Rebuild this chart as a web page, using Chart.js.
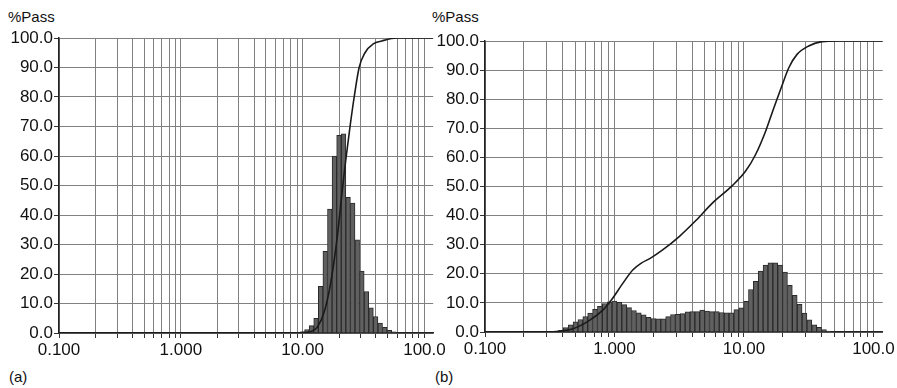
<!DOCTYPE html>
<html>
<head>
<meta charset="utf-8">
<script src="https://cdn.jsdelivr.net/npm/chart.js@4.4.1/dist/chart.umd.min.js"></script>
<style>
  html, body { margin:0; padding:0; background:#fff; }
  body { width:897px; height:388px; position:relative; overflow:hidden; font-family:"Liberation Sans", Arial, sans-serif; color:#111; }
  canvas { position:absolute; top:0; }
  .lbl { position:absolute; font-size:15px; line-height:15px; white-space:nowrap; }
</style>
</head>
<body>
<div class="lbl" style="left:8px; top:9px;">%Pass</div>
<div class="lbl" style="left:432px; top:9px;">%Pass</div>
<div class="lbl" style="left:9px; top:369px;">(a)</div>
<div class="lbl" style="left:435px; top:369px;">(b)</div>
<canvas id="ca" width="448" height="388" style="left:0px;"></canvas>
<canvas id="cb" width="477" height="388" style="left:420px;"></canvas>
<script>
// ---------- data ----------
const xTickValues = [0.1,0.2,0.3,0.4,0.5,0.6,0.7,0.8,0.9,1,2,3,4,5,6,7,8,9,10,20,30,40,50,60,70,80,90,100];
const xTickLabels = {0.1:"0.100", 1:"1.000", 10:"10.00", 100:"100.0"};
const yTickValues = [0,10,20,30,40,50,60,70,80,90,100];

// Panel (a) histogram
const histSizesA = [9.110, 9.935, 10.834, 11.815, 12.884, 14.050, 15.321, 16.708, 18.220, 19.869, 21.668, 23.629, 25.767, 28.100, 30.643, 33.417, 36.442, 39.740, 43.336, 47.259, 51.535, 56.200];
const histValsA  = [0.2, 0.4, 1.2, 2.5, 5.0, 15.8, 27.7, 42.0, 60.0, 67.0, 67.5, 46.0, 44.0, 31.6, 21.0, 14.0, 8.5, 5.6, 3.4, 1.9, 0.9, 0.4];
// Panel (a) cumulative %pass
const cumSizesA = [0.1, 8.5, 10.5, 11.7, 13.2, 15.0, 17.0, 19.3, 21.1, 22.5, 24.5, 26.5, 29.1, 32.5, 38.0, 44.7, 59.2, 118];
const cumValsA  = [0, 0, 0.2, 0.5, 2, 7, 17, 33, 48, 58, 70, 80, 90, 95, 98, 99, 100, 100];

// Panel (b) histogram
const histSizesB = [0.3536, 0.3856, 0.4204, 0.4585, 0.5, 0.5453, 0.5946, 0.6484, 0.7071, 0.7711, 0.8409, 0.917, 1.0, 1.0905, 1.1892, 1.2968, 1.4142, 1.5422, 1.6818, 1.834, 2.0, 2.181, 2.378, 2.594, 2.828, 3.084, 3.364, 3.668, 4.0, 4.362, 4.757, 5.187, 5.657, 6.169, 6.727, 7.336, 8.0, 8.724, 9.514, 10.375, 11.314, 12.338, 13.454, 14.672, 16.0, 17.448, 19.027, 20.749, 22.627, 24.675, 26.909, 29.344, 32.0, 34.897, 38.055, 41.499, 45.255];
const histValsB  = [0.2, 0.5, 1.5, 2.5, 3.5, 4.3, 5.3, 6.5, 7.8, 8.8, 9.8, 10.4, 10.6, 10.2, 9.4, 8.4, 7.4, 6.6, 5.9, 5.0, 4.6, 4.5, 4.5, 5.3, 6.0, 6.1, 6.3, 6.9, 7.0, 7.0, 7.5, 7.2, 7.0, 7.0, 6.7, 6.6, 6.6, 7.7, 8.3, 10.5, 14.6, 17.4, 20.9, 23.0, 23.8, 23.8, 23.0, 20.6, 16.0, 12.6, 9.5, 6.5, 4.2, 2.5, 1.6, 0.8, 0.3];
// Panel (b) cumulative %pass
const cumSizesB = [0.1, 0.33, 0.36, 0.478, 0.642, 0.813, 0.943, 1.159, 1.383, 1.60, 1.90, 2.354, 3.162, 4.25, 5.70, 8.13, 10.3, 12.3, 14.7, 17.0, 19.2, 22.2, 25.7, 31.6, 40.0, 53.8, 118];
const cumValsB  = [0, 0, 0.2, 1.1, 4, 7.5, 10.9, 16.7, 21.3, 23.6, 25.4, 28.2, 32.8, 38.3, 44.3, 50.3, 55.3, 61, 69, 77, 83.4, 90.8, 95.4, 98.3, 99.8, 100, 100];

// ---------- chart builder ----------
const FONT = { family: "'Liberation Sans', Arial, sans-serif", size: 17 };
function pts(xs, ys) { return xs.map((x, i) => ({ x: x, y: ys[i] })); }

function makeChart(id, hs, hv, cs, cv, yAxisW, pad) {
  return new Chart(document.getElementById(id), {
    type: 'bar',
    data: {
      datasets: [
        {
          type: 'line', data: pts(cs, cv), borderColor: '#1a1a1a', borderWidth: 1.6,
          pointRadius: 0, cubicInterpolationMode: 'monotone', fill: false, order: 0
        },
        {
          type: 'bar', data: pts(hs, hv), backgroundColor: '#606060', borderColor: '#2a2a2a',
          borderWidth: 1, barPercentage: 1, categoryPercentage: 1, order: 1
        }
      ]
    },
    options: {
      responsive: false, animation: false, devicePixelRatio: 1,
      layout: { padding: pad },
      plugins: { legend: { display: false }, tooltip: { enabled: false } },
      scales: {
        x: {
          type: 'logarithmic', min: 0.1, max: 118, offset: false,
          afterBuildTicks: s => { s.ticks = xTickValues.map(v => ({ value: v })); },
          afterFit: s => { s.height = 30; },
          grid: { color: '#808080', lineWidth: 1, offset: false, tickLength: 5, tickColor: '#333', drawTicks: true },
          border: { display: true, color: '#222', width: 1.5 },
          ticks: {
            autoSkip: false, maxRotation: 0, minRotation: 0, padding: 2, color: '#111', font: FONT,
            callback: v => (xTickLabels[v] !== undefined ? xTickLabels[v] : '')
          }
        },
        y: {
          min: 0, max: 100,
          afterBuildTicks: s => { s.ticks = yTickValues.map(v => ({ value: v })); },
          afterFit: s => { s.width = yAxisW; },
          grid: { color: '#808080', lineWidth: 1, tickLength: 5, tickColor: '#333' },
          border: { display: true, color: '#222', width: 1.5 },
          ticks: { padding: 1, color: '#111', font: FONT, callback: v => Number(v).toFixed(1) }
        }
      }
    }
  });
}

makeChart('ca', histSizesA, histValsA, cumSizesA, cumValsA, 59, { top: 38, right: 12, bottom: 25, left: 0 });
makeChart('cb', histSizesB, histValsB, cumSizesB, cumValsB, 65, { top: 41, right: 12, bottom: 26, left: 0 });
</script>
</body>
</html>
